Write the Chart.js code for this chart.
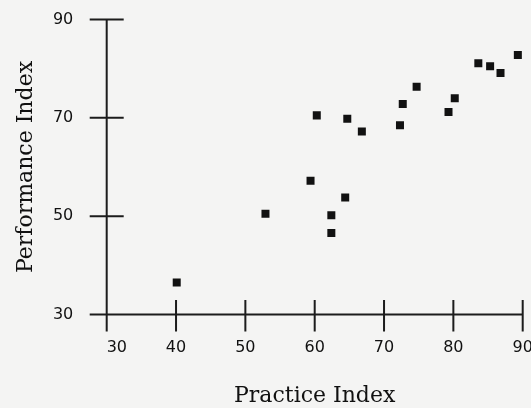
<!DOCTYPE html>
<html>
<head>
<meta charset="utf-8">
<script src="https://cdn.jsdelivr.net/npm/chart.js@4"></script>
<style>
  html, body { margin: 0; padding: 0; background: #f4f4f3; }
  #wrap { width: 531px; height: 408px; }
</style>
</head>
<body>
<div id="wrap"><canvas id="chart"></canvas></div>
<script>
var practice = [40.1, 52.9, 59.4, 60.3, 62.4, 62.4, 64.4, 64.7, 66.8,
                72.3, 72.7, 74.7, 79.3, 80.2, 83.6, 85.3, 86.8, 89.3];
var performance = [36.5, 50.5, 57.2, 70.5, 50.2, 46.6, 53.8, 69.8, 67.2,
                   68.5, 72.8, 76.3, 71.2, 74.0, 81.1, 80.5, 79.1, 82.8];
var xTicks = [30, 40, 50, 60, 70, 80, 90];
var yTicks = [30, 50, 70, 90];

var ink = '#111111';

// axes that cross at the origin, with ticks through the line
var crossAxes = {
  id: 'crossAxes',
  beforeDatasetsDraw: function(chart) {
    var ctx = chart.ctx;
    var xs = chart.scales.x, ys = chart.scales.y;
    var x0 = xs.getPixelForValue(xTicks[0]);
    var y0 = ys.getPixelForValue(yTicks[0]);
    ctx.save();
    ctx.strokeStyle = '#1c1c1c';
    ctx.lineWidth = 2;
    ctx.beginPath();
    // x axis line, sticks out past the y axis
    ctx.moveTo(x0 - 17, y0);
    ctx.lineTo(xs.getPixelForValue(xTicks[xTicks.length - 1]), y0);
    // y axis line, sticks out below the x axis
    ctx.moveTo(x0, ys.getPixelForValue(yTicks[yTicks.length - 1]));
    ctx.lineTo(x0, y0 + 17);
    xTicks.forEach(function(v) {
      if (v === xTicks[0]) return;
      var px = xs.getPixelForValue(v);
      ctx.moveTo(px, y0 - 14.5);
      ctx.lineTo(px, y0 + 17);
    });
    yTicks.forEach(function(v) {
      if (v === yTicks[0]) return;
      var py = ys.getPixelForValue(v);
      ctx.moveTo(x0 - 17, py);
      ctx.lineTo(x0 + 17, py);
    });
    ctx.stroke();
    ctx.restore();
  }
};

var points = practice.map(function(x, i) { return {x: x, y: performance[i]}; });

new Chart(document.getElementById('chart'), {
  type: 'scatter',
  data: {
    datasets: [{
      data: points,
      pointStyle: 'rect',
      pointRadius: 5.66,
      pointBorderWidth: 0,
      backgroundColor: '#111111',
      borderColor: '#111111'
    }]
  },
  plugins: [crossAxes],
  options: {
    responsive: true,
    maintainAspectRatio: false,
    animation: false,
    layout: { padding: { left: 0, right: 8.3, top: 19.5, bottom: 0 } },
    plugins: {
      legend: { display: false },
      tooltip: { enabled: false }
    },
    scales: {
      x: {
        type: 'linear',
        min: 30,
        max: 90,
        afterBuildTicks: function(scale) {
          scale.ticks = xTicks.map(function(v) { return {value: v}; });
        },
        afterFit: function(scale) {
          scale.height = 93.5;
          scale.paddingLeft = 0;
          scale.paddingRight = 0;
        },
        grid: { display: false, drawTicks: false },
        border: { display: false },
        ticks: {
          autoSkip: false,
          maxRotation: 0,
          padding: 23.4,
          color: ink,
          font: { family: 'DejaVu Sans', size: 16 },
          callback: function(v) { return v === xTicks[0] ? '    ' + v : String(v); }
        },
        title: {
          display: true,
          text: 'Practice Index',
          color: ink,
          font: { family: 'DejaVu Serif', size: 22 },
          padding: { top: 0, bottom: -1 }
        }
      },
      y: {
        type: 'linear',
        min: 30,
        max: 90,
        afterBuildTicks: function(scale) {
          scale.ticks = yTicks.map(function(v) { return {value: v}; });
        },
        afterFit: function(scale) {
          scale.width = 106.7;
          scale.paddingTop = 0;
          scale.paddingBottom = 0;
        },
        grid: { display: false, drawTicks: false },
        border: { display: false },
        ticks: {
          autoSkip: false,
          padding: 33.4,
          color: ink,
          font: { family: 'DejaVu Sans', size: 16 }
        },
        title: {
          display: true,
          text: 'Performance Index',
          color: ink,
          font: { family: 'DejaVu Serif', size: 22 },
          padding: { top: 12.6, bottom: 0 }
        }
      }
    }
  }
});
</script>
</body>
</html>
